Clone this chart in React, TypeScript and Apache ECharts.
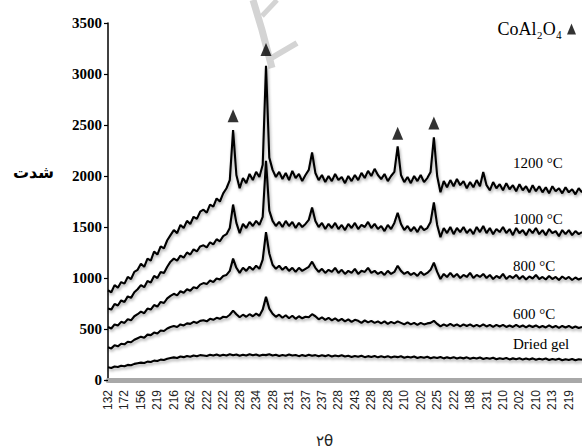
import React, { useEffect, useRef } from "react";
import * as echarts from "echarts";

// x tick labels (one every 5 samples)
const tickLabels = ["132","172","156","219","216","262","222","222","228","234","228","231","237","237","228","243","228","228","210","202","225","222","188","231","210","202","210","213","219"];
const samplesPerTick = 5;
const sampleCount = 145;

const s1200 = [
  880,860,930,905,960,945,1010,990,1060,1080,
  1140,1110,1190,1170,1260,1230,1310,1290,1370,1420,
  1470,1440,1520,1490,1560,1530,1600,1580,1650,1670,
  1640,1720,1700,1780,1750,1830,1880,1960,2450,2010,
  1880,1980,1930,2020,1960,2040,1990,2110,3080,2180,
  2060,1990,2040,1970,2030,1960,2050,1980,2020,1950,
  2010,2060,2230,2030,1960,2010,1940,2000,1950,2020,
  1960,1990,1930,2000,1950,2010,1960,2030,1980,2050,
  2000,2070,2010,1970,2020,1950,2000,2040,2290,2010,
  1940,1990,1930,2000,1950,2010,1940,1980,2040,2380,
  2000,1840,1950,1890,1960,1900,1970,1910,1950,1880,
  1940,1890,1960,1900,2040,1910,1860,1940,1880,1920,
  1860,1930,1870,1910,1850,1920,1860,1900,1840,1910,
  1850,1900,1840,1890,1830,1900,1850,1880,1830,1890,
  1840,1870,1820,1880,1840
];
const s1000 = [
  700,690,745,730,780,765,820,805,860,890,
  930,910,970,955,1020,1000,1060,1050,1110,1160,
  1190,1170,1220,1200,1250,1230,1280,1260,1310,1320,
  1300,1350,1330,1380,1360,1410,1430,1490,1720,1540,
  1440,1530,1490,1550,1510,1560,1520,1600,2150,1660,
  1560,1510,1550,1500,1560,1510,1550,1490,1540,1500,
  1530,1570,1690,1560,1500,1540,1480,1530,1490,1540,
  1480,1520,1470,1530,1490,1540,1480,1520,1500,1550,
  1490,1530,1480,1510,1460,1520,1480,1540,1640,1530,
  1470,1510,1460,1500,1450,1510,1470,1490,1550,1740,
  1520,1400,1490,1440,1500,1430,1490,1450,1500,1440,
  1480,1430,1500,1450,1510,1440,1490,1430,1480,1450,
  1500,1440,1480,1420,1490,1440,1470,1420,1480,1440,
  1490,1430,1470,1420,1480,1440,1460,1410,1470,1430,
  1470,1420,1460,1430,1450
];
const s800 = [
  520,505,545,535,570,560,595,585,625,645,
  670,655,700,690,735,720,765,755,800,825,
  845,830,870,855,890,875,910,900,935,950,
  940,975,960,995,985,1020,1030,1070,1190,1100,
  1050,1100,1070,1110,1080,1120,1090,1180,1450,1240,
  1130,1090,1120,1080,1110,1070,1100,1060,1100,1070,
  1090,1110,1160,1100,1060,1090,1050,1080,1060,1100,
  1050,1080,1040,1070,1050,1090,1040,1070,1060,1100,
  1050,1070,1040,1060,1030,1070,1040,1060,1120,1070,
  1040,1060,1030,1050,1020,1060,1030,1050,1080,1150,
  1060,990,1040,1010,1050,1010,1040,1000,1030,1010,
  1050,1000,1030,1010,1040,1000,1030,990,1020,1000,
  1040,990,1020,1000,1030,990,1020,985,1015,995,
  1030,990,1010,985,1020,990,1010,980,1015,990,
  1010,980,1005,985,1000
];
const s600 = [
  320,310,340,330,355,350,375,370,395,410,
  425,415,445,440,465,455,485,480,505,520,
  530,520,545,535,555,550,570,560,580,585,
  575,600,590,610,600,620,615,640,680,645,
  615,640,620,645,625,650,630,690,815,700,
  650,620,640,610,635,605,630,600,625,605,
  620,615,645,625,595,615,590,610,585,605,
  580,600,575,595,570,590,580,560,585,565,
  580,560,575,555,575,550,570,555,575,560,
  545,565,545,560,540,560,545,555,560,580,
  550,525,545,530,550,530,545,525,545,530,
  545,525,540,525,545,525,540,520,540,525,
  540,520,535,520,540,520,535,515,535,520,
  535,515,530,515,535,515,530,510,530,515,
  530,510,525,510,520
];
const sDried = [
  125,118,132,128,140,135,148,145,158,165,
  170,166,180,176,190,186,200,196,208,215,
  222,216,230,224,236,228,240,232,244,240,
  236,248,240,250,238,248,240,252,242,250,
  238,248,240,252,242,250,238,248,244,252,
  240,248,236,246,238,250,240,246,234,244,
  236,248,238,244,232,242,234,244,230,240,
  232,242,230,238,226,236,228,238,224,234,
  226,236,222,232,224,234,220,230,224,232,
  218,228,220,230,216,226,218,228,214,224,
  216,226,212,222,214,224,210,220,212,222,
  208,218,210,220,206,216,208,218,204,214,
  206,216,202,212,204,214,200,210,202,212,
  198,208,200,210,196,206,198,208,194,204,
  196,206,194,204,198
];

// CoAl2O4 reflections: [sample index, marker height]
const peakMarkers = [[38, 2590], [48, 3240], [88, 2420], [99, 2519]];

const seriesNames = ["1200 °C", "1000 °C", "800 °C", "600 °C", "Dried gel"];
const seriesValues = [s1200, s1000, s800, s600, sDried];
const seriesLabelY = [163, 219, 266, 314, 344];

const yTitle = "شدت";
const xTitle = "۲θ";
const markerName = "CoAl₂O₄";

export default function App() {
  const ref = useRef<HTMLDivElement>(null);
  useEffect(() => {
    if (!ref.current) return;
    const chart = echarts.init(ref.current, undefined, { renderer: "svg" });
    const categories = Array.from({ length: sampleCount }, (_, i) => String(i));
    const serif = '"Liberation Serif", "DejaVu Serif", serif';
    chart.setOption({
      animation: false,
      backgroundColor: "#fff",
      grid: { left: 108, right: 0, top: 23, bottom: 68, outerBoundsMode: "none" },
      legend: {
        data: [markerName],
        right: 6,
        top: 20,
        padding: 0,
        icon: "triangle",
        align: "right",
        itemWidth: 9,
        itemHeight: 11,
        itemGap: 4,
        textStyle: { fontFamily: serif, fontSize: 18, color: "#000" },
      },
      xAxis: {
        type: "category",
        data: categories,
        boundaryGap: false,
        axisLine: { lineStyle: { color: "#a8a8a8", width: 5 } },
        axisTick: { show: false },
        splitLine: { show: false },
        axisLabel: {
          rotate: 90,
          interval: (index: number) => index % samplesPerTick === 0,
          formatter: (_v: string, index: number) => tickLabels[index / samplesPerTick] ?? "",
          fontFamily: '"Liberation Sans", Arial, sans-serif',
          fontSize: 12,
          color: "#222",
          margin: 10,
        },
      },
      yAxis: {
        type: "value",
        min: 0,
        max: 3500,
        interval: 500,
        axisLine: { show: true, lineStyle: { color: "#000", width: 1.5 } },
        axisTick: { show: true, length: 4, lineStyle: { color: "#000", width: 1.2 } },
        splitLine: { show: false },
        axisLabel: {
          formatter: (v: number) => String(v),
          fontFamily: serif,
          fontWeight: "bold",
          fontSize: 15,
          color: "#000",
          margin: 6,
        },
      },
      series: [
        ...seriesNames.map((name, k) => ({
          name,
          type: "line",
          data: seriesValues[k],
          symbol: "none",
          lineStyle: {
            color: "#000",
            width: 2.1,
            shadowColor: "rgba(0,0,0,0.35)",
            shadowBlur: 3,
            shadowOffsetX: 1,
            shadowOffsetY: 2,
          },
          z: 3,
        })),
        {
          name: markerName,
          type: "scatter",
          data: peakMarkers,
          symbol: "triangle",
          symbolSize: [11, 13],
          itemStyle: { color: "#000" },
          z: 4,
        },
      ],
      graphic: [
        {
          type: "polyline",
          shape: { points: [[253, 0], [262, 30], [272, 68]] },
          style: { stroke: "#d4d4d4", lineWidth: 7, fill: "none" },
          z: 1,
        },
        {
          type: "polyline",
          shape: { points: [[268, 60], [297, 43]] },
          style: { stroke: "#d4d4d4", lineWidth: 6, fill: "none" },
          z: 1,
        },
        {
          type: "polyline",
          shape: { points: [[262, 16], [277, 0]] },
          style: { stroke: "#d4d4d4", lineWidth: 5, fill: "none" },
          z: 1,
        },
        ...seriesNames.map((name, k) => ({
          type: "text",
          left: 513,
          top: seriesLabelY[k] - 8,
          style: { text: name, fontFamily: serif, fontSize: 15, fill: "#000" },
          z: 5,
        })),
        {
          type: "text",
          left: 13,
          top: 164,
          style: { text: yTitle, fontFamily: '"DejaVu Sans", sans-serif', fontWeight: "bold", fontSize: 16, fill: "#000" },
        },
        {
          type: "text",
          left: 316,
          top: 433,
          style: { text: xTitle, fontFamily: '"DejaVu Sans", sans-serif', fontSize: 15, fill: "#222" },
        },
      ],
    });
    return () => chart.dispose();
  }, []);
  return <div ref={ref} style={{ position: "fixed", left: 0, top: 0, width: 582, height: 448 }} />;
}
